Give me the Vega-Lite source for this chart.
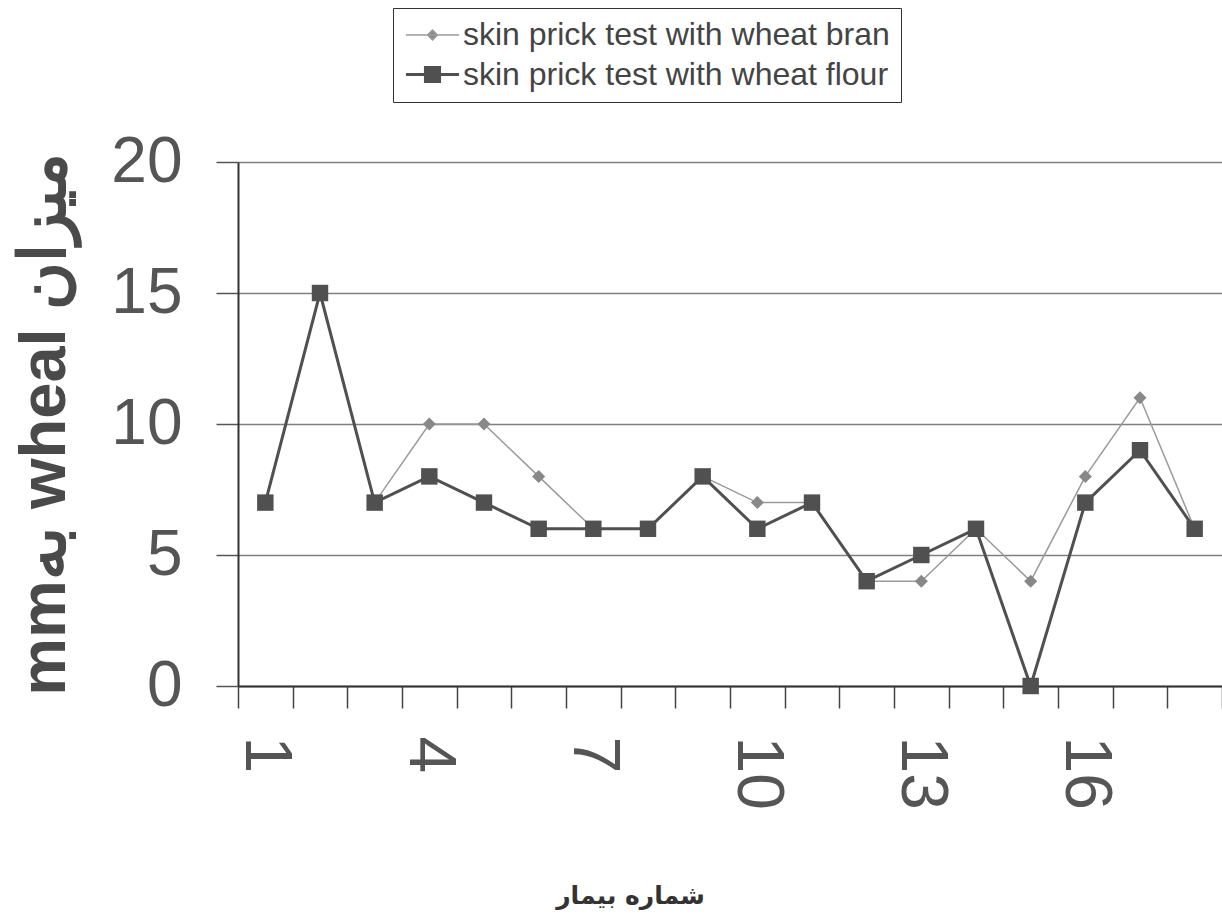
{
  "$schema": "https://vega.github.io/schema/vega-lite/v6.json",
  "autosize": {"type": "none"},
  "padding": {"left": 238, "top": 162, "right": 0, "bottom": 231},
  "width": 984,
  "height": 524,
  "background": "white",
  "config": {
    "view": {"stroke": null},
    "font": "Liberation Sans"
  },
  "data": {
    "values": [
      {"patient": 1, "series": "skin prick test with wheat bran", "wheal": 7},
      {"patient": 2, "series": "skin prick test with wheat bran", "wheal": 15},
      {"patient": 3, "series": "skin prick test with wheat bran", "wheal": 7},
      {"patient": 4, "series": "skin prick test with wheat bran", "wheal": 10},
      {"patient": 5, "series": "skin prick test with wheat bran", "wheal": 10},
      {"patient": 6, "series": "skin prick test with wheat bran", "wheal": 8},
      {"patient": 7, "series": "skin prick test with wheat bran", "wheal": 6},
      {"patient": 8, "series": "skin prick test with wheat bran", "wheal": 6},
      {"patient": 9, "series": "skin prick test with wheat bran", "wheal": 8},
      {"patient": 10, "series": "skin prick test with wheat bran", "wheal": 7},
      {"patient": 11, "series": "skin prick test with wheat bran", "wheal": 7},
      {"patient": 12, "series": "skin prick test with wheat bran", "wheal": 4},
      {"patient": 13, "series": "skin prick test with wheat bran", "wheal": 4},
      {"patient": 14, "series": "skin prick test with wheat bran", "wheal": 6},
      {"patient": 15, "series": "skin prick test with wheat bran", "wheal": 4},
      {"patient": 16, "series": "skin prick test with wheat bran", "wheal": 8},
      {"patient": 17, "series": "skin prick test with wheat bran", "wheal": 11},
      {"patient": 18, "series": "skin prick test with wheat bran", "wheal": 6},
      {"patient": 1, "series": "skin prick test with wheat flour", "wheal": 7},
      {"patient": 2, "series": "skin prick test with wheat flour", "wheal": 15},
      {"patient": 3, "series": "skin prick test with wheat flour", "wheal": 7},
      {"patient": 4, "series": "skin prick test with wheat flour", "wheal": 8},
      {"patient": 5, "series": "skin prick test with wheat flour", "wheal": 7},
      {"patient": 6, "series": "skin prick test with wheat flour", "wheal": 6},
      {"patient": 7, "series": "skin prick test with wheat flour", "wheal": 6},
      {"patient": 8, "series": "skin prick test with wheat flour", "wheal": 6},
      {"patient": 9, "series": "skin prick test with wheat flour", "wheal": 8},
      {"patient": 10, "series": "skin prick test with wheat flour", "wheal": 6},
      {"patient": 11, "series": "skin prick test with wheat flour", "wheal": 7},
      {"patient": 12, "series": "skin prick test with wheat flour", "wheal": 4},
      {"patient": 13, "series": "skin prick test with wheat flour", "wheal": 5},
      {"patient": 14, "series": "skin prick test with wheat flour", "wheal": 6},
      {"patient": 15, "series": "skin prick test with wheat flour", "wheal": 0},
      {"patient": 16, "series": "skin prick test with wheat flour", "wheal": 7},
      {"patient": 17, "series": "skin prick test with wheat flour", "wheal": 9},
      {"patient": 18, "series": "skin prick test with wheat flour", "wheal": 6}
    ]
  },
  "encoding": {
    "x": {
      "field": "patient",
      "type": "ordinal",
      "scale": {"type": "band", "paddingInner": 0, "paddingOuter": 0},
      "axis": {
        "title": "شماره بیمار",
        "titleFont": "DejaVu Sans",
        "titleFontSize": 25,
        "titleFontWeight": "bold",
        "titleColor": "#333",
        "titleX": 392,
        "titleY": 217,
        "titleAlign": "center",
        "titleBaseline": "alphabetic",
        "tickBand": "extent",
        "tickSize": 22,
        "tickColor": "#444",
        "tickWidth": 1.5,
        "domainColor": "#333",
        "domainWidth": 2,
        "labelAngle": 90,
        "labelAlign": "left",
        "labelBaseline": "middle",
        "labelFontSize": 66,
        "labelColor": "#555",
        "labelPadding": 28,
        "labelExpr": "(datum.value - 1) % 3 == 0 ? datum.label : ''",
        "labelOverlap": false,
        "grid": false
      }
    },
    "y": {
      "field": "wheal",
      "type": "quantitative",
      "scale": {"domain": [0, 20], "nice": false},
      "axis": {
        "values": [0, 5, 10, 15, 20],
        "title": "mmبه wheal میزان",
        "titleFont": "Liberation Sans",
        "titleFontSize": 65,
        "titleFontWeight": "bold",
        "titleColor": "#4a4a4a",
        "titleAngle": -90,
        "titleX": -174,
        "titleY": 262,
        "titleAlign": "center",
        "titleBaseline": "alphabetic",
        "tickSize": 22,
        "tickColor": "#555",
        "tickWidth": 1.5,
        "domainColor": "#333",
        "domainWidth": 2,
        "labelFontSize": 64,
        "labelColor": "#555",
        "labelPadding": 34,
        "grid": true,
        "gridColor": "#808080",
        "gridWidth": 1.5
      }
    }
  },
  "layer": [
    {
      "mark": {"type": "line"},
      "encoding": {
        "color": {
          "field": "series",
          "type": "nominal",
          "scale": {"range": ["#9a9a9a", "#505050"]},
          "legend": {
            "title": null,
            "orient": "none",
            "legendX": 155,
            "legendY": -154,
            "strokeColor": "#333",
            "fillColor": "white",
            "padding": 11,
            "labelFontSize": 32,
            "labelColor": "#444",
            "labelFont": "Liberation Sans",
            "labelLimit": 600,
            "labelOffset": 14,
            "symbolOffset": 12,
            "rowPadding": 7,
            "symbolSize": 900,
            "encode": {
              "symbols": {
                "update": {
                  "shape": {"signal": "datum.value == 'skin prick test with wheat bran' ? 'M-1.77,0H1.77M0,-0.33L0.33,0L0,0.33L-0.33,0Z' : 'M-1.77,0H1.77M-0.47,-0.47H0.47V0.47H-0.47Z'"},
                  "strokeWidth": {"signal": "datum.value == 'skin prick test with wheat bran' ? 1.2 : 2.5"},
                  "stroke": {"signal": "datum.value == 'skin prick test with wheat bran' ? '#9a9a9a' : '#505050'"},
                  "fill": {"signal": "datum.value == 'skin prick test with wheat bran' ? '#8a8a8a' : '#505050'"},
                  "opacity": {"value": 1}
                }
              }
            }
          }
        },
        "strokeWidth": {
          "field": "series",
          "type": "nominal",
          "scale": {"range": [1.5, 3]},
          "legend": null
        }
      }
    },
    {
      "mark": {"type": "point", "filled": true, "opacity": 1},
      "encoding": {
        "color": {
          "field": "series",
          "type": "nominal",
          "scale": {"range": ["#9a9a9a", "#505050"]},
          "legend": null
        },
        "fill": {
          "field": "series",
          "type": "nominal",
          "scale": {"range": ["#888888", "#505050"]},
          "legend": null
        },
        "shape": {
          "field": "series",
          "type": "nominal",
          "scale": {"range": ["diamond", "square"]},
          "legend": null
        },
        "size": {
          "field": "series",
          "type": "nominal",
          "scale": {"range": [170, 270]},
          "legend": null
        }
      }
    }
  ]
}
